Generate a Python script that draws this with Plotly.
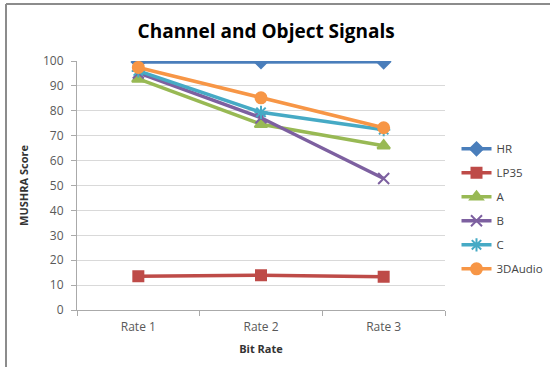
import plotly.graph_objects as go

# Listening-test results per codec at three bit rates
rates = ["Rate 1", "Rate 2", "Rate 3"]
series_names = ["HR", "LP35", "A", "B", "C", "3DAudio"]
hr = [99.6, 99.8, 99.7]
lp35 = [13.6, 14.0, 13.4]
a = [92.8, 74.6, 66.0]
b = [95.2, 77.2, 52.8]
c = [96.0, 79.4, 72.4]
audio3d = [97.4, 85.2, 73.2]

values = [hr, lp35, a, b, c, audio3d]
colors = ["#4A7EBB", "#BE4B48", "#98B954", "#7D60A0", "#46AAC5", "#F79646"]
symbols = ["diamond", "square", "triangle-up", "x-thin-open", "asterisk-open", "circle"]
sizes = [10, 10, 11, 11, 11, 11]

fig = go.Figure()
for name, vals, col, sym, sz in zip(series_names, values, colors, symbols, sizes):
    fig.add_trace(go.Scatter(
        x=rates, y=vals, name=name, legendgroup=name,
        mode="lines+markers",
        line=dict(color=col, width=3.5),
        marker=dict(symbol=sym, size=sz, color=col,
                    line=dict(color=col, width=2)),
    ))

fig.update_layout(
    width=550, height=367,
    margin=dict(l=77, r=105, t=61, b=57, autoexpand=False),
    paper_bgcolor="white", plot_bgcolor="white",
    font=dict(family="Open Sans, sans-serif", size=12, color="#595959"),
    title=dict(text="<b>Channel and Object Signals</b>", x=0.484, xanchor="center",
               y=0.915, yanchor="middle",
               font=dict(size=19, color="black")),
    showlegend=True,
    legend=dict(xref="container", yref="container", x=0.83, xanchor="left",
                y=0.634, yanchor="top",
                tracegroupgap=5, itemwidth=30,
                font=dict(size=11.5, color="#444444")),
    xaxis=dict(
        title=dict(text="<b>Bit Rate</b>", font=dict(size=11, color="#333333"), standoff=10),
        showline=True, linecolor="#aaaaaa", linewidth=1,
        ticks="outside", tickson="boundaries", ticklen=5, tickcolor="#aaaaaa",
        ticklabelstandoff=6,
        showgrid=False, range=[-0.5, 2.5],
    ),
    yaxis=dict(
        title=dict(text="<b>MUSHRA Score</b>", font=dict(size=11, color="#333333"), standoff=12),
        range=[0, 100], dtick=10,
        showline=True, linecolor="#aaaaaa", linewidth=1,
        ticks="outside", ticklen=5, tickcolor="#aaaaaa",
        ticklabelstandoff=5,
        showgrid=True, gridcolor="#d9d9d9", gridwidth=1,
        zeroline=False,
    ),
)

# Frame along the top and left edges of the chart area
fig.add_shape(type="line", xref="paper", yref="paper",
              x0=(6 - 77) / 368, x1=(550 - 77) / 368,
              y0=(310 - 4) / 249, y1=(310 - 4) / 249,
              line=dict(color="#8c8c8c", width=2))
fig.add_shape(type="line", xref="paper", yref="paper",
              x0=(6 - 77) / 368, x1=(6 - 77) / 368,
              y0=(310 - 4) / 249, y1=(310 - 367) / 249,
              line=dict(color="#8c8c8c", width=2))

fig.write_html("out.html")
